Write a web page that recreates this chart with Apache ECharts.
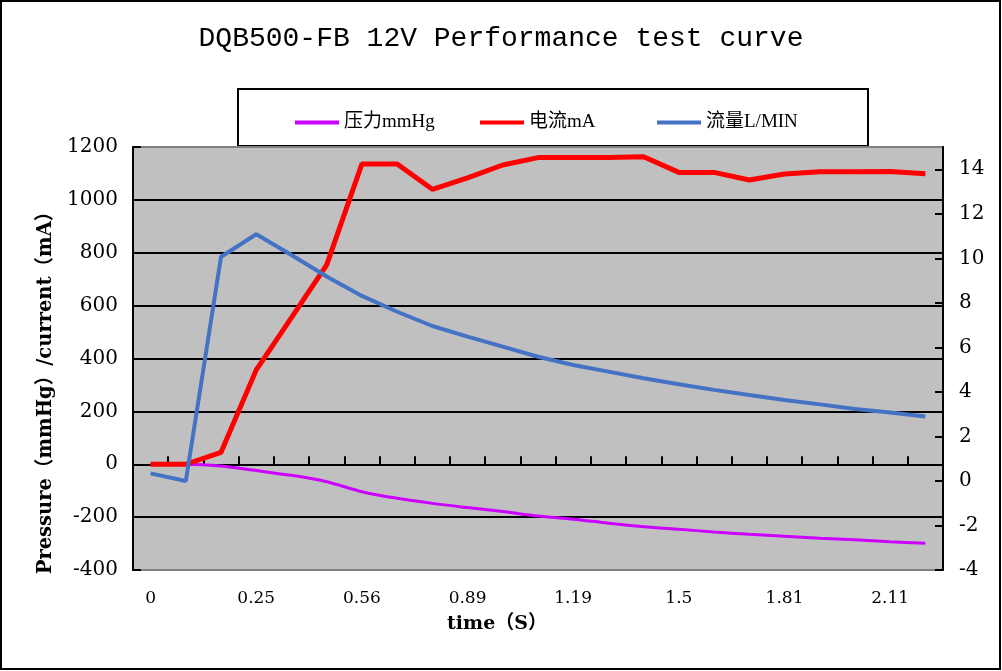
<!DOCTYPE html>
<html>
<head>
<meta charset="utf-8">
<title>DQB500-FB 12V</title>
<script src="https://cdn.jsdelivr.net/npm/echarts@6/dist/echarts.min.js"></script>
<style>
  html, body { margin: 0; padding: 0; background: #fff; }
  #main { width: 1002px; height: 671px; }
</style>
</head>
<body>
<div id="main"></div>
<script>
// time (S) - only every 3rd label is shown
var categories = ['0', '0.08', '0.17', '0.25', '0.35', '0.46', '0.56', '0.67', '0.78', '0.89', '0.99', '1.09',
  '1.19', '1.29', '1.4', '1.5', '1.6', '1.71', '1.81', '1.91', '2.01', '2.11', '2.21'];
// 压力 mmHg (left axis)
var pressure = [0, 0, -7, -24, -42, -66, -104, -129, -148, -164, -179, -196,
  -208, -223, -236, -246, -256, -265, -272, -280, -286, -293, -299];
// 电流 mA (left axis)
var current = [0, 0, 45, 357, 555, 754, 1136, 1136, 1040, 1083, 1132, 1160,
  1160, 1160, 1163, 1104, 1104, 1075, 1098, 1106, 1106, 1107, 1099];
// 流量 L/MIN (right axis)
var flow = [0.34, 0, 10.07, 11.08, 10.15, 9.18, 8.31, 7.6, 6.96, 6.48, 6.03, 5.58,
  5.21, 4.91, 4.61, 4.34, 4.09, 3.86, 3.64, 3.44, 3.23, 3.07, 2.89];

var leftAxis = { min: -400, max: 1200, interval: 200 };
var rightAxis = { min: -4, max: 15, interval: 2 };

var serif = "'DejaVu Serif', 'Noto Sans CJK SC', serif";
var legendFont = "'Liberation Serif', 'Noto Sans CJK SC', serif";

var chart = echarts.init(document.getElementById('main'));

function legendAt(name, left) {
  return {
    data: [name],
    left: left,
    top: 108,
    icon: 'rect',
    itemWidth: 44,
    itemHeight: 4,
    itemGap: 8,
    textStyle: { fontFamily: legendFont, fontSize: 19, color: '#000' }
  };
}

function plain(v) { return String(v); }

chart.setOption({
  backgroundColor: '#fff',
  animation: false,
  title: {
    text: 'DQB500-FB 12V Performance test curve',
    left: 'center',
    top: 20,
    textStyle: { fontFamily: "'Liberation Mono', monospace", fontSize: 28, fontWeight: 'normal', color: '#000' }
  },
  legend: [
    legendAt('压力mmHg', 290),
    legendAt('电流mA', 475),
    legendAt('流量L/MIN', 652)
  ],
  grid: {
    left: 133,
    right: 59,
    top: 147,
    bottom: 101,
    show: true,
    backgroundColor: '#c0c0c0',
    borderColor: '#808080',
    borderWidth: 2
  },
  xAxis: [
    {
      type: 'category',
      data: categories,
      position: 'bottom',
      boundaryGap: true,
      axisLine: { show: false, onZero: false },
      axisTick: { show: false },
      splitLine: { show: false },
      axisLabel: { interval: 2, margin: 20, fontFamily: serif, fontSize: 17, color: '#000' }
    },
    {
      type: 'category',
      data: categories,
      position: 'top',
      boundaryGap: true,
      axisLine: { show: true, onZero: true, onZeroAxisIndex: 0, lineStyle: { color: '#000', width: 2 } },
      axisTick: { show: true, interval: 0, inside: false, length: 8, lineStyle: { color: '#000', width: 2 } },
      axisLabel: { show: false },
      splitLine: { show: false }
    }
  ],
  yAxis: [
    {
      type: 'value',
      position: 'left',
      min: leftAxis.min,
      max: leftAxis.max,
      interval: leftAxis.interval,
      axisLine: { show: true, lineStyle: { color: '#000', width: 2 } },
      axisTick: { show: true, inside: true, length: 8, lineStyle: { color: '#000', width: 2 } },
      splitLine: { show: true, showMinLine: false, showMaxLine: false, lineStyle: { color: '#000', width: 2 } },
      axisLabel: { margin: 15, formatter: plain, fontFamily: serif, fontSize: 20, color: '#000' }
    },
    {
      type: 'value',
      position: 'right',
      min: rightAxis.min,
      max: rightAxis.max,
      interval: rightAxis.interval,
      axisLine: { show: true, lineStyle: { color: '#000', width: 2 } },
      axisTick: { show: true, inside: true, length: 8, lineStyle: { color: '#000', width: 2 } },
      splitLine: { show: false },
      axisLabel: { margin: 16, formatter: plain, showMaxLabel: false, fontFamily: serif, fontSize: 20, color: '#000' }
    }
  ],
  series: [
    {
      name: '压力mmHg',
      type: 'line',
      yAxisIndex: 0,
      data: pressure,
      smooth: 0.3,
      symbol: 'none',
      itemStyle: { color: '#cc00ff' },
      lineStyle: { color: '#cc00ff', width: 3 }
    },
    {
      name: '电流mA',
      type: 'line',
      yAxisIndex: 0,
      data: current,
      symbol: 'none',
      itemStyle: { color: '#ff0000' },
      lineStyle: { color: '#ff0000', width: 5 }
    },
    {
      name: '流量L/MIN',
      type: 'line',
      yAxisIndex: 1,
      data: flow,
      symbol: 'none',
      itemStyle: { color: '#4472c4' },
      lineStyle: { color: '#4472c4', width: 4 }
    }
  ],
  graphic: [
    {
      // outer frame
      type: 'rect',
      silent: true,
      z: 100,
      shape: { x: 1, y: 1, width: 999, height: 668 },
      style: { fill: 'none', stroke: '#000', lineWidth: 2 }
    },
    {
      // legend frame
      type: 'rect',
      silent: true,
      z: -1,
      shape: { x: 238, y: 89, width: 630, height: 57 },
      style: { fill: '#fff', stroke: '#000', lineWidth: 2 }
    },
    {
      type: 'text',
      silent: true,
      x: 46,
      y: 388,
      rotation: Math.PI / 2,
      style: {
        text: 'Pressure（mmHg）/current（mA）',
        fontFamily: serif,
        fontSize: 19.5,
        fontWeight: 'bold',
        fill: '#000',
        align: 'center',
        verticalAlign: 'middle'
      }
    },
    {
      type: 'text',
      silent: true,
      x: 497,
      y: 624,
      style: {
        text: 'time（S）',
        fontFamily: serif,
        fontSize: 19,
        fontWeight: 'bold',
        fill: '#000',
        align: 'center',
        verticalAlign: 'middle'
      }
    }
  ]
});
</script>
</body>
</html>
